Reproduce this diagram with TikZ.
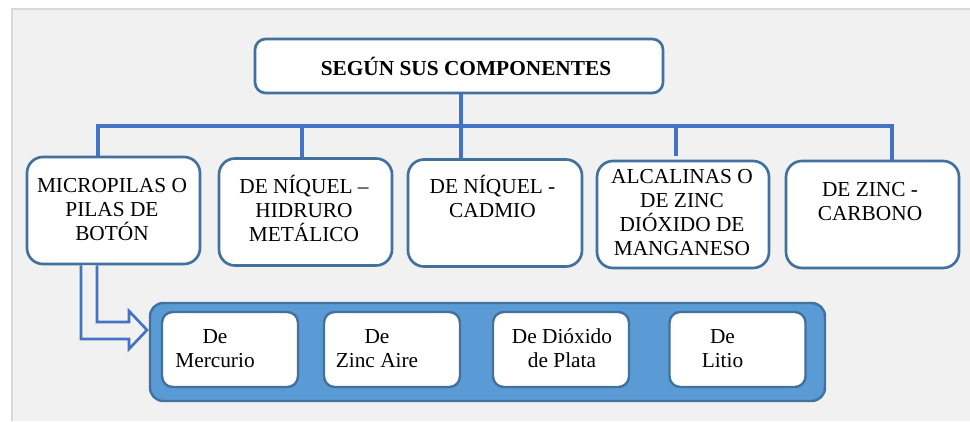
\documentclass[tikz,border=0pt]{standalone}
\usepackage{fontspec}
\setmainfont{Liberation Serif}
\definecolor{bgc}{HTML}{F1F1F1}
\definecolor{edgec}{HTML}{D9D9D9}
\definecolor{boxline}{HTML}{41719C}
\definecolor{conn}{HTML}{4472C4}
\definecolor{grpfill}{HTML}{5B9BD5}
\tikzset{
  bigbox/.style={draw=boxline, line width=2pt, fill=white, rounded corners=12pt, inner sep=0pt},
  topbox/.style={draw=boxline, line width=2pt, fill=white, rounded corners=8pt, inner sep=0pt, minimum width=306pt, minimum height=40.5pt},
  catbox/.style={bigbox, minimum width=129.75pt, minimum height=80.25pt},
  smallbox/.style={draw=boxline, line width=1.8pt, fill=white, rounded corners=8pt, inner sep=0pt, minimum width=102pt, minimum height=56.25pt},
  grpbox/.style={draw=boxline, line width=1.8pt, fill=grpfill, rounded corners=10pt, inner sep=0pt, minimum width=506.25pt, minimum height=73.5pt},
  txt/.style={inner sep=0pt, align=center, anchor=base, font=\fontsize{16}{18}\selectfont},
  conline/.style={draw=conn, line width=2.7pt},
}
\begin{document}
\begin{tikzpicture}[x=0.75pt, y=-0.75pt]
\useasboundingbox (0,0) rectangle (970,421);
% background
\fill[bgc] (11,8) rectangle (970,421);
\draw[edgec, line width=1.8pt] (12,421) -- (12,9.2) -- (970,9.2);

% top node
\node[topbox] (top) at (459,66) {};
\node[txt, font=\fontsize{16}{18}\selectfont\bfseries] (toptxt) at (466,75) {SEGÚN SUS COMPONENTES};

% bus coordinates
\coordinate (busc) at (461,126);
\coordinate (j1) at (98,126);
\coordinate (j2) at (302,126);
\coordinate (j3) at (461,126);
\coordinate (j4) at (676,126);
\coordinate (j5) at (892,126);
\coordinate (e4) at (676,156);

% category boxes
\node[catbox] (b1) at (113.5,210.5) {};
\node[catbox] (b2) at (305.5,212) {};
\node[catbox, minimum width=130.5pt] (b3) at (495,213) {};
\node[catbox, minimum width=129pt] (b4) at (683,214.5) {};
\node[catbox] (b5) at (872.5,214.5) {};

% connectors
\draw[conline] (top.south -| busc) -- (busc);
\draw[conline, line cap=rect] (j1) -- (j5);
\draw[conline] (j1) -- (j1 |- b1.north);
\draw[conline] (j2) -- (j2 |- b2.north);
\draw[conline] (j3) -- (j3 |- b3.north);
\draw[conline] (j4) -- (e4);
\draw[conline] (j5) -- (j5 |- b5.north);

% texts (anchor = baseline of last line)
\node[txt] (t1) at (112,240) {MICROPILAS O\\PILAS DE\\BOTÓN};
\node[txt] (t2) at (304,241) {DE NÍQUEL –\\HIDRURO\\METÁLICO};
\node[txt] (t3) at (492.5,217) {DE NÍQUEL -\\CADMIO};
\node[txt] (t4) at (682,255) {ALCALINAS O\\DE ZINC\\DIÓXIDO DE\\MANGANESO};
\node[txt] (t5) at (870,220) {DE ZINC -\\CARBONO};

% bent block arrow
\draw[conn, line width=2pt, fill=bgc, line join=miter]
  (b1.south -| 97,0) -- (97,322) -- (129,322) -- (129,311) -- (147,330)
  -- (129,349) -- (129,339) -- (81,339) -- (b1.south -| 81,0);

% group
\node[grpbox] (grp) at (487.5,352) {};
\node[smallbox] (s1) at (230,349.5) {};
\node[smallbox] (s2) at (392,349.5) {};
\node[smallbox] (s3) at (561,349.5) {};
\node[smallbox] (s4) at (737.5,349.5) {};
\node[txt] (u1) at (215,367) {De\\Mercurio};
\node[txt] (u2) at (377,367) {De\\Zinc Aire};
\node[txt] (u3) at (562,367) {De Dióxido\\de Plata};
\node[txt] (u4) at (722.5,367) {De\\Litio};
\end{tikzpicture}
\end{document}
